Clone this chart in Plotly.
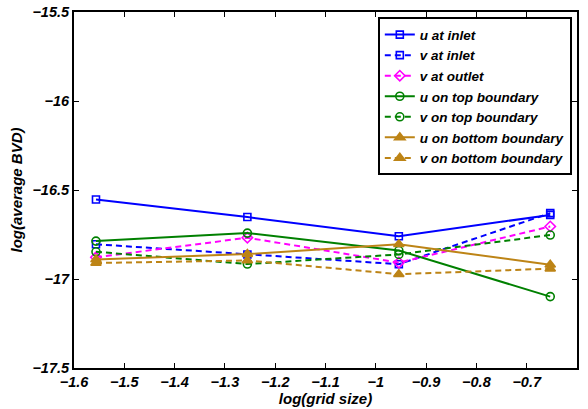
import plotly.graph_objects as go

# log10 of the grid sizes (1/36, 1/18, 1/9, 2/9)
log_h = [-1.5563, -1.2553, -0.9542, -0.6532]

u_inlet = [-16.553, -16.652, -16.760, -16.640]
v_inlet = [-16.805, -16.862, -16.917, -16.630]
v_outlet = [-16.878, -16.768, -16.908, -16.705]
u_top = [-16.787, -16.742, -16.840, -17.099]
v_top = [-16.847, -16.916, -16.862, -16.753]
u_bottom = [-16.890, -16.860, -16.805, -16.920]
v_bottom = [-16.910, -16.896, -16.973, -16.942]

names = ["u at inlet", "v at inlet", "v at outlet", "u on top boundary",
         "v on top boundary", "u on bottom boundary", "v on bottom boundary"]
series = [u_inlet, v_inlet, v_outlet, u_top, v_top, u_bottom, v_bottom]

# axis ticks and their labels
x_ticks = [-1.6, -1.5, -1.4, -1.3, -1.2, -1.1, -1.0, -0.9, -0.8, -0.7, -0.6]
x_labels = ["−1.6", "−1.5", "−1.4", "−1.3", "−1.2", "−1.1", "−1",
            "−0.9", "−0.8", "−0.7", "−0.6"]
y_ticks = [-17.5, -17.0, -16.5, -16.0, -15.5]
y_labels = ["−17.5", "−17", "−16.5", "−16", "−15.5"]

BLUE = "#0000ff"
MAGENTA = "#ff00ff"
GREEN = "#008000"
GOLD = "#bd8416"
colors = [BLUE, BLUE, MAGENTA, GREEN, GREEN, GOLD, GOLD]
dashes = ["solid", "6px,4px", "6px,4px", "solid", "6px,4px", "solid", "6px,4px"]
symbols = ["square-open", "square-open", "diamond-open", "circle-open",
           "circle-open", "triangle-up", "triangle-up"]
sizes = [7, 7, 8, 8, 8, 9, 9]

fig = go.Figure()
for name, ys, c, d, s, sz in zip(names, series, colors, dashes, symbols, sizes):
    fig.add_trace(go.Scatter(
        x=log_h, y=ys, name=name, mode="lines+markers",
        line=dict(color=c, width=2, dash=d),
        marker=dict(symbol=s, size=sz, color=c, line=dict(color=c, width=1.6)),
    ))

FAMILY = "Liberation Sans, Arial, sans-serif"


def bold_italic(size):
    return dict(family=FAMILY, size=size, color="black", weight=700, style="italic")


def bi(labels):
    return ["<b><i>%s</i></b>" % t for t in labels]


axis_common = dict(
    showline=True, linecolor="black", linewidth=2, mirror="ticks",
    ticks="inside", ticklen=5, tickwidth=1.2, tickcolor="black",
    showgrid=False, zeroline=False, tickfont=bold_italic(14.5), automargin=False,
)

fig.update_layout(
    width=588, height=409,
    margin=dict(l=74, r=11, t=12, b=41),
    paper_bgcolor="white", plot_bgcolor="white",
    font=bold_italic(14),
    xaxis=dict(range=[-1.6, -0.6], tickvals=x_ticks, ticktext=bi(x_labels),
               title=dict(text="log(grid size)", font=bold_italic(15), standoff=2),
               **axis_common),
    yaxis=dict(range=[-17.5, -15.5], tickvals=y_ticks, ticktext=bi(y_labels),
               title=dict(text="log(average BVD)", font=bold_italic(15), standoff=6),
               **axis_common),
    legend=dict(x=0.604, y=0.985, xanchor="left", yanchor="top",
                bgcolor="white", bordercolor="black", borderwidth=2,
                font=bold_italic(13.5), tracegroupgap=0, itemwidth=30),
    showlegend=True,
)

fig.write_html("out.html")
